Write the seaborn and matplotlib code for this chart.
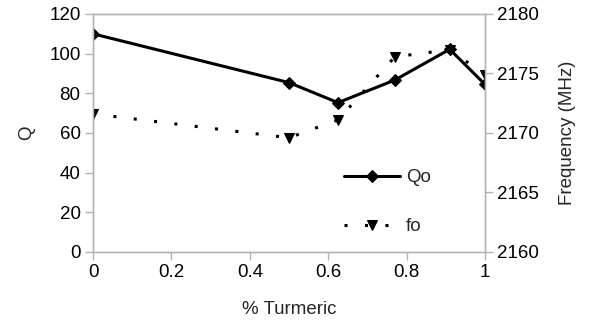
import matplotlib
matplotlib.use("Agg")
import matplotlib.pyplot as plt
import seaborn as sns
import pandas as pd

turmeric = [0, 0.5, 0.625, 0.77, 0.91, 1.0]
q_values = [110, 85.4, 75.3, 86.7, 102.2, 84.5]
f_values = [2171.6, 2169.6, 2171.1, 2176.4, 2177.0, 2174.9]
x_ticks = [0, 0.2, 0.4, 0.6, 0.8, 1]
x_ticklabels = ["0", "0.2", "0.4", "0.6", "0.8", "1"]
q_ticks = [0, 20, 40, 60, 80, 100, 120]
f_ticks = [2160, 2165, 2170, 2175, 2180]

sns.set_style("white")
plt.rcParams['font.family'] = ['Liberation Sans', 'DejaVu Sans']

df = pd.DataFrame({"x": turmeric, "Q": q_values, "f": f_values})

FS = 13.5
fig = plt.figure(figsize=(5.89, 3.21), dpi=100)
ax = fig.add_axes([0.158, 0.215, 0.6654, 0.7414])
ax2 = ax.twinx()

sns.lineplot(data=df, x="x", y="Q", ax=ax, color="black", linewidth=2.2,
             marker="D", markersize=6, markeredgecolor="black", label="Qo", legend=False)
sns.lineplot(data=df, x="x", y="f", ax=ax2, color="black", linewidth=2.2,
             marker="v", markersize=7.5, markeredgecolor="black", label="fo", legend=False,
             dashes=False)
ax2.lines[0].set_linestyle((0, (1, 5.7)))

ax.set_xlim(0, 1)
ax.set_ylim(0, 120)
ax2.set_ylim(2160, 2180)
ax.set_xticks(x_ticks)
ax.set_xticklabels(x_ticklabels)
ax.set_yticks(q_ticks)
ax2.set_yticks(f_ticks)

gray = "#b3b3b3"
for a in (ax, ax2):
    for s in a.spines.values():
        s.set_color(gray)
        s.set_linewidth(1.0)
    a.tick_params(axis="both", which="major", direction="out", length=6, width=1,
                  color=gray, labelsize=FS, labelcolor="black", pad=3)
ax.tick_params(bottom=True, left=True)
ax2.tick_params(right=True)

ax.set_xlabel("% Turmeric", fontsize=FS, labelpad=14)
ax.set_ylabel("Q", fontsize=FS, labelpad=10)
ax2.set_ylabel("Frequency (MHz)", fontsize=FS, labelpad=14)

h1, l1 = ax.get_legend_handles_labels()
h2, l2 = ax2.get_legend_handles_labels()
leg = ax.legend(h1 + h2, l1 + l2, loc="lower right", bbox_to_anchor=(0.905, 0.0),
                frameon=False, fontsize=FS, handlelength=3.0, labelspacing=1.7,
                handletextpad=0.3)

fig.savefig("out.png", dpi=100)
